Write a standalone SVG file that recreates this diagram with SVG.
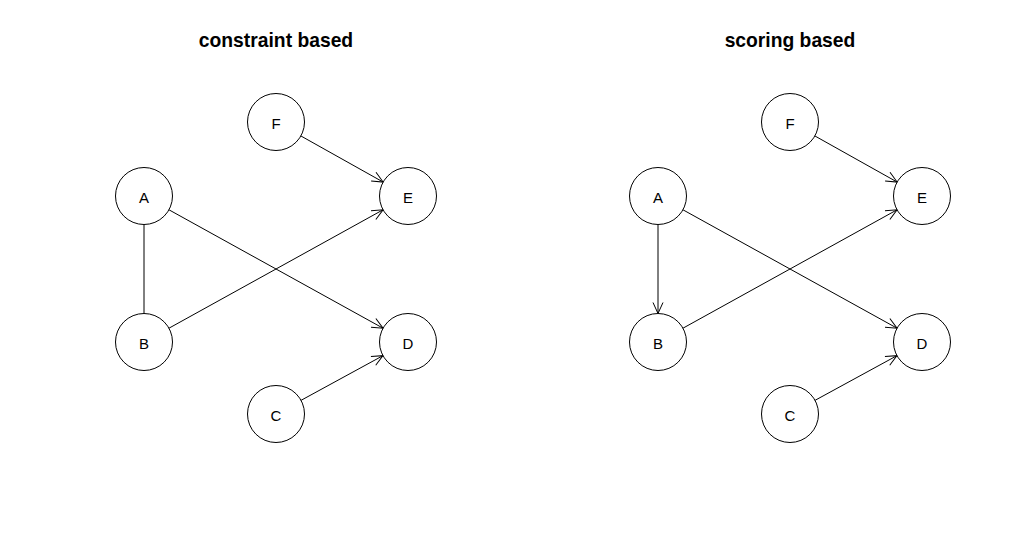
<svg xmlns="http://www.w3.org/2000/svg" width="1028" height="556" viewBox="0 0 1028 556">
<style>
.title{font-family:"Liberation Sans",Arial,sans-serif;font-weight:bold;font-size:19.3px;fill:#000;text-anchor:middle}
.node circle{fill:#fff;stroke:#000;stroke-width:1}
.node text{font-family:"Liberation Sans",Arial,sans-serif;font-size:15px;fill:#000;text-anchor:middle;dominant-baseline:central}
.edge{stroke:#000;stroke-width:1;fill:none}
.arr{marker-end:url(#ah)}
</style>
<defs>
<marker id="ah" markerUnits="userSpaceOnUse" viewBox="-13 -7 14 14" markerWidth="14" markerHeight="14" refX="0" refY="0" orient="auto" overflow="visible">
<path d="M-11,-5 L0,0 L-11,5" fill="none" stroke="#000" stroke-width="1"/>
</marker>
</defs>
<rect width="1028" height="556" fill="#fff"/>
<text class="title" x="276" y="47">constraint based</text>
<text class="title" x="790" y="47">scoring based</text>
<g id="connectors">
<line class="edge arr" x1="300.86" y1="135.94" x2="383.14" y2="182.06"/>
<line class="edge arr" x1="168.94" y1="209.79" x2="383.06" y2="328.21"/>
<line class="edge arr" x1="168.94" y1="328.21" x2="383.06" y2="209.79"/>
<line class="edge arr" x1="301.02" y1="400.35" x2="382.98" y2="355.65"/>
<line class="edge" x1="144" y1="224.5" x2="144" y2="313.5"/>
<line class="edge arr" x1="814.86" y1="135.94" x2="897.14" y2="182.06"/>
<line class="edge arr" x1="682.94" y1="209.79" x2="897.06" y2="328.21"/>
<line class="edge arr" x1="682.94" y1="328.21" x2="897.06" y2="209.79"/>
<line class="edge arr" x1="815.02" y1="400.35" x2="896.98" y2="355.65"/>
<line class="edge arr" x1="658" y1="224.5" x2="658" y2="313.5"/>
</g>
<g id="L_F" class="node"><circle cx="276" cy="122" r="28.5"/><text x="276" y="123">F</text></g>
<g id="L_E" class="node"><circle cx="408" cy="196" r="28.5"/><text x="408" y="197">E</text></g>
<g id="L_A" class="node"><circle cx="144" cy="196" r="28.5"/><text x="144" y="197">A</text></g>
<g id="L_B" class="node"><circle cx="144" cy="342" r="28.5"/><text x="144" y="343">B</text></g>
<g id="L_D" class="node"><circle cx="408" cy="342" r="28.5"/><text x="408" y="343">D</text></g>
<g id="L_C" class="node"><circle cx="276" cy="414" r="28.5"/><text x="276" y="415">C</text></g>
<g id="R_F" class="node"><circle cx="790" cy="122" r="28.5"/><text x="790" y="123">F</text></g>
<g id="R_E" class="node"><circle cx="922" cy="196" r="28.5"/><text x="922" y="197">E</text></g>
<g id="R_A" class="node"><circle cx="658" cy="196" r="28.5"/><text x="658" y="197">A</text></g>
<g id="R_B" class="node"><circle cx="658" cy="342" r="28.5"/><text x="658" y="343">B</text></g>
<g id="R_D" class="node"><circle cx="922" cy="342" r="28.5"/><text x="922" y="343">D</text></g>
<g id="R_C" class="node"><circle cx="790" cy="414" r="28.5"/><text x="790" y="415">C</text></g>
</svg>
